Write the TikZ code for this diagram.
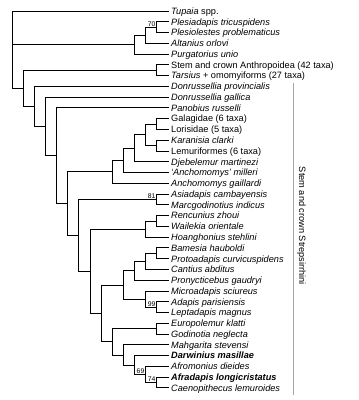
\documentclass[tikz,border=0pt]{standalone}
\usepackage{fontspec}
\setmainfont{Liberation Sans}
\tikzset{
  taxon/.style={anchor=west, inner xsep=2pt, inner ysep=0pt, text height=6.6pt, text depth=0pt, font=\fontsize{9.2}{10}\selectfont},
  branch/.style={line width=0.9pt},
  support/.style={anchor=south east, inner xsep=1pt, inner ysep=0.8pt, font=\fontsize{6.8}{7}\selectfont},
  cladebar/.style={line width=1pt, black!35},
}

\begin{document}
\begin{tikzpicture}[x=1pt, y=-10.77pt]
\useasboundingbox (0,-0.021) rectangle (359,37.12);
% taxa
\node[taxon] (t1) at (169,1) {\textit{Tupaia} spp.};
\node[taxon] (t2) at (169,2) {\textit{Plesiadapis tricuspidens}};
\node[taxon] (t3) at (169,3) {\textit{Plesiolestes problematicus}};
\node[taxon] (t4) at (169,4) {\textit{Altanius orlovi}};
\node[taxon] (t5) at (169,5) {\textit{Purgatorius unio}};
\node[taxon] (t6) at (169,6) {Stem and crown Anthropoidea (42 taxa)};
\node[taxon] (t7) at (169,7) {\textit{Tarsius} + omomyiforms (27 taxa)};
\node[taxon] (t8) at (169,8) {\textit{Donrussellia provincialis}};
\node[taxon] (t9) at (169,9) {\textit{Donrussellia gallica}};
\node[taxon] (t10) at (169,10) {\textit{Panobius russelli}};
\node[taxon] (t11) at (169,11) {Galagidae (6 taxa)};
\node[taxon] (t12) at (169,12) {Lorisidae (5 taxa)};
\node[taxon] (t13) at (169,13) {\textit{Karanisia clarki}};
\node[taxon] (t14) at (169,14) {Lemuriformes (6 taxa)};
\node[taxon] (t15) at (169,15) {\textit{Djebelemur martinezi}};
\node[taxon] (t16) at (169,16) {\textit{`Anchomomys' milleri}};
\node[taxon] (t17) at (169,17) {\textit{Anchomomys gaillardi}};
\node[taxon] (t18) at (169,18) {\textit{Asiadapis cambayensis}};
\node[taxon] (t19) at (169,19) {\textit{Marcgodinotius indicus}};
\node[taxon] (t20) at (169,20) {\textit{Rencunius zhoui}};
\node[taxon] (t21) at (169,21) {\textit{Wailekia orientale}};
\node[taxon] (t22) at (169,22) {\textit{Hoanghonius stehlini}};
\node[taxon] (t23) at (169,23) {\textit{Bamesia hauboldi}};
\node[taxon] (t24) at (169,24) {\textit{Protoadapis curvicuspidens}};
\node[taxon] (t25) at (169,25) {\textit{Cantius abditus}};
\node[taxon] (t26) at (169,26) {\textit{Pronycticebus gaudryi}};
\node[taxon] (t27) at (169,27) {\textit{Microadapis sciureus}};
\node[taxon] (t28) at (169,28) {\textit{Adapis parisiensis}};
\node[taxon] (t29) at (169,29) {\textit{Leptadapis magnus}};
\node[taxon] (t30) at (169,30) {\textit{Europolemur klatti}};
\node[taxon] (t31) at (169,31) {\textit{Godinotia neglecta}};
\node[taxon] (t32) at (169,32) {\textit{Mahgarita stevensi}};
\node[taxon] (t33) at (169,33) {\textbf{\textit{Darwinius masillae}}};
\node[taxon] (t34) at (169,34) {\textit{Afromonius dieides}};
\node[taxon] (t35) at (169,35) {\textbf{\textit{Afradapis longicristatus}}};
\node[taxon] (t36) at (169,36) {\textit{Caenopithecus lemuroides}};
%
% internal nodes
\coordinate (root) at (12.3,4.59);
\coordinate (pl) at (134.4,4.125);
\coordinate (pl1) at (145.5,3.25);
\coordinate (pl2) at (156.6,2.5);
\coordinate (eu) at (23.4,8.18);
\coordinate (hap) at (156.6,6.5);
\coordinate (s1) at (34.5,9.86);
\coordinate (s2) at (45.6,11.72);
\coordinate (s3) at (56.7,14.44);
\coordinate (s4) at (67.8,18.885);
\coordinate (ang) at (112.2,15.9375);
\coordinate (anm) at (123.3,14.875);
\coordinate (djb) at (134.4,13.75);
\coordinate (crn) at (145.5,12.5);
\coordinate (lor) at (156.6,11.5);
\coordinate (lem) at (156.6,13.5);
\coordinate (s5) at (78.9,21.832);
\coordinate (asi) at (156.6,18.5);
\coordinate (s6) at (90,25.164);
\coordinate (hoa) at (145.5,21.25);
\coordinate (ren) at (156.6,20.5);
\coordinate (s7) at (101.1,29.078);
\coordinate (adp) at (123.3,26.4375);
\coordinate (pro) at (134.4,25.125);
\coordinate (can) at (145.5,24.25);
\coordinate (bam) at (156.6,23.5);
\coordinate (mic) at (145.5,27.75);
\coordinate (ada) at (156.6,28.5);
\coordinate (s8) at (112.2,31.71875);
\coordinate (eur) at (156.6,30.5);
\coordinate (mah) at (123.3,32.9375);
\coordinate (dar) at (134.4,33.875);
\coordinate (afm) at (145.5,34.75);
\coordinate (afr) at (156.6,35.5);
%
% branches
\foreach \a/\b in {root/t1.west, root/pl, root/eu,
  pl/pl1, pl/t5.west, pl1/pl2, pl1/t4.west, pl2/t2.west, pl2/t3.west,
  eu/hap, eu/s1, hap/t6.west, hap/t7.west,
  s1/t8.west, s1/s2, s2/t9.west, s2/s3, s3/t10.west, s3/s4,
  s4/ang, s4/s5, ang/anm, ang/t17.west, anm/djb, anm/t16.west,
  djb/crn, djb/t15.west, crn/lor, crn/lem,
  lor/t11.west, lor/t12.west, lem/t13.west, lem/t14.west,
  s5/asi, s5/s6, asi/t18.west, asi/t19.west,
  s6/hoa, s6/s7, hoa/ren, hoa/t22.west, ren/t20.west, ren/t21.west,
  s7/adp, s7/s8, adp/pro, adp/mic, pro/can, pro/t26.west,
  can/bam, can/t25.west, bam/t23.west, bam/t24.west,
  mic/t27.west, mic/ada, ada/t28.west, ada/t29.west,
  s8/eur, s8/mah, eur/t30.west, eur/t31.west,
  mah/t32.west, mah/dar, dar/t33.west, dar/afm,
  afm/t34.west, afm/afr, afr/t35.west, afr/t36.west}
  \draw[branch] (\a) |- (\b);
%
% support values
\node[support] (b70) at (pl2) {70};
\node[support] (b81) at (asi) {81};
\node[support] (b99) at (ada) {99};
\node[support] (b69) at (afm) {69};
\node[support] (b74) at (afr) {74};
%
% strepsirrhine bar
\coordinate (bartop) at (293.3,7.71);
\coordinate (barbot) at (293.3,36.66);
\draw[cladebar] (bartop) -- (barbot);
\node[rotate=-90, font=\fontsize{9.2}{10}\selectfont] (grp) at (301.5,20.96) {Stem and crown Strepsirrhini};
\end{tikzpicture}
\end{document}
